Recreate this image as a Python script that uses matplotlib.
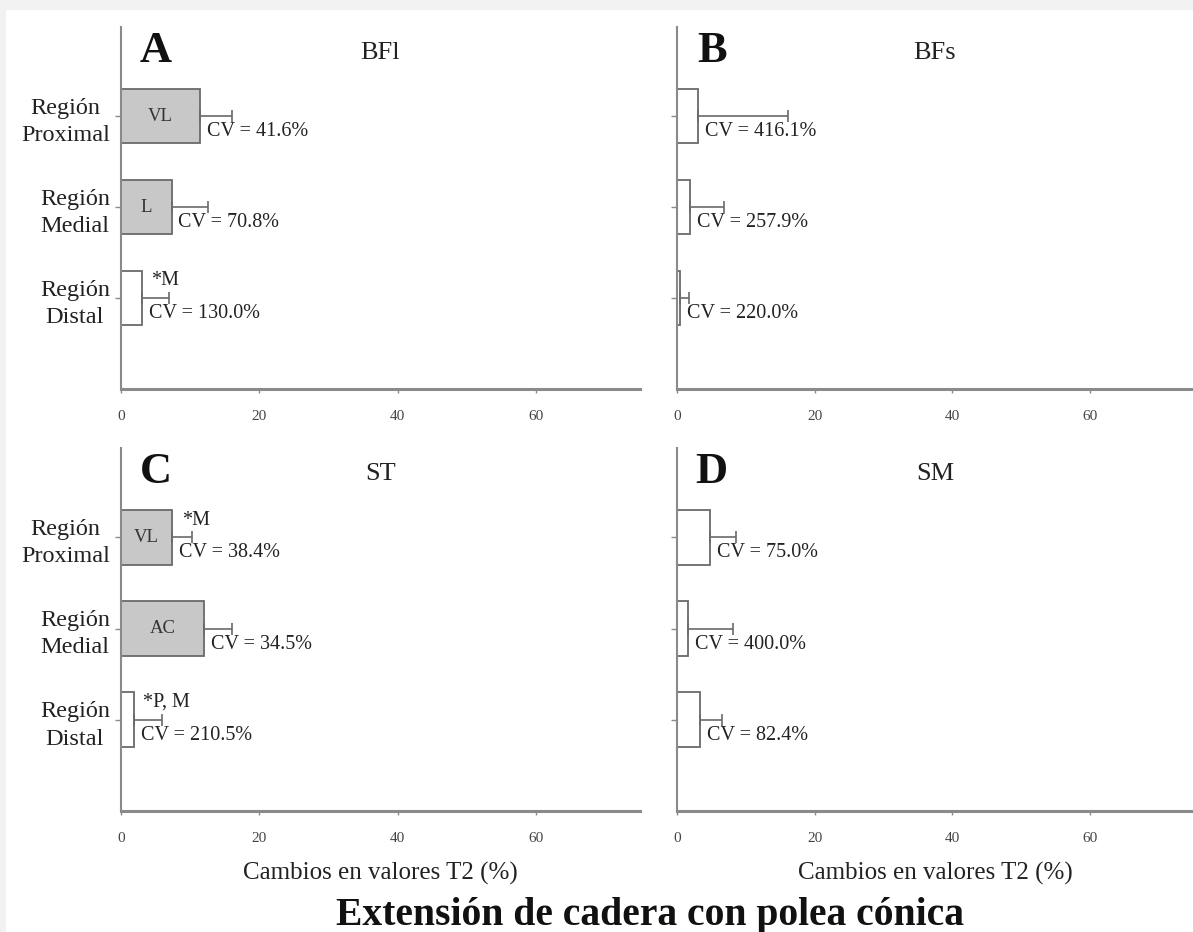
import matplotlib
matplotlib.use("Agg")
import matplotlib.pyplot as plt
from matplotlib.patches import Rectangle

plt.rcParams['font.family'] = ['Liberation Serif', 'DejaVu Serif']

# --- Data ---
regions = ["Región\nProximal", "Región\nMedial", "Región\nDistal"]

bfl_mean = [11.4, 7.3, 3.0]
bfl_err = [4.7, 5.2, 4.0]
bfl_cv = ["CV = 41.6%", "CV = 70.8%", "CV = 130.0%"]
bfl_inside = ["VL", "L", ""]
bfl_mark = ["", "", "*M"]

bfs_mean = [3.1, 1.9, 0.5]
bfs_err = [13.1, 5.0, 1.2]
bfs_cv = ["CV = 416.1%", "CV = 257.9%", "CV = 220.0%"]
bfs_inside = ["", "", ""]
bfs_mark = ["", "", ""]

st_mean = [7.4, 12.0, 1.85]
st_err = [2.9, 4.0, 4.05]
st_cv = ["CV = 38.4%", "CV = 34.5%", "CV = 210.5%"]
st_inside = ["VL", "AC", ""]
st_mark = ["*M", "", "*P, M"]

sm_mean = [4.8, 1.65, 3.4]
sm_err = [3.8, 6.55, 3.1]
sm_cv = ["CV = 75.0%", "CV = 400.0%", "CV = 82.4%"]
sm_inside = ["", "", ""]
sm_mark = ["", "", ""]

xticks = [0, 20, 40, 60]
xlabel = "Cambios en valores T2 (%)"
title = "Extensión de cadera con polea cónica"

W, H = 1193, 932
fig = plt.figure(figsize=(W / 100, H / 100), dpi=100)
fig.patch.set_facecolor("white")
# light grey frame strips (top / left)
fig.patches.append(Rectangle((0, 1 - 10 / H), 1, 10 / H, transform=fig.transFigure,
                             facecolor="#f2f2f2", edgecolor="none", zorder=0))
fig.patches.append(Rectangle((0, 0), 6 / W, 1, transform=fig.transFigure,
                             facecolor="#f2f2f2", edgecolor="none", zorder=0))

GRAY = "#c8c8c8"
EDGE = "#6a6a6a"
AXC = "#8a8a8a"


def px_axes(left, top, right, bottom):
    return fig.add_axes([left / W, 1 - bottom / H, (right - left) / W, (bottom - top) / H])


def panel(ax, letter, name, mean, err, cv, inside, mark, shaded, show_labels, show_xlabel):
    pos = list(range(len(mean)))
    colors = [GRAY if s else "white" for s in shaded]
    ax.barh(pos, mean, height=0.6, color=colors, edgecolor=EDGE, linewidth=1.3, zorder=2)
    ax.errorbar(mean, pos, xerr=[[0] * len(err), err], fmt="none", ecolor=EDGE,
                elinewidth=1.2, capsize=4.5, capthick=1.2, zorder=3)
    for i in pos:
        ax.text(mean[i] + 1.0, i + 0.17, cv[i], fontsize=14.5, va="center", ha="left", color="#222")
        if inside[i]:
            ax.text(mean[i] / 2, i, inside[i], fontsize=13.5, va="center", ha="center", color="#333")
        if mark[i]:
            ax.text(mean[i] + 1.4, i - 0.19, mark[i], fontsize=14.5, va="center", ha="left", color="#222")
    ax.set_xlim(0, 75)
    ax.set_ylim(3.0, -0.98)
    ax.set_xticks(xticks)
    ax.set_xticklabels([str(t) for t in xticks], fontsize=11, color="#444")
    ax.set_yticks(pos)
    if show_labels:
        ax.set_yticklabels(regions, fontsize=17.5, color="#222")
        for t in ax.get_yticklabels():
            t.set_multialignment("center")
            t.set_linespacing(1.4)
    else:
        ax.set_yticklabels([])
    ax.tick_params(axis="y", length=4, width=1, color=AXC, pad=4)
    ax.tick_params(axis="x", length=3, width=1, color=AXC, pad=12)
    for s in ["top", "right"]:
        ax.spines[s].set_visible(False)
    ax.spines["left"].set_color(AXC)
    ax.spines["left"].set_linewidth(1.5)
    ax.spines["bottom"].set_color(AXC)
    ax.spines["bottom"].set_linewidth(2.2)
    ax.text(0.067, 0.934, letter, transform=ax.transAxes, fontsize=32, fontweight="bold",
            ha="center", va="center", color="#111")
    ax.text(0.5, 0.927, name, transform=ax.transAxes, fontsize=19, ha="center", va="center",
            color="#222")
    if show_xlabel:
        ax.set_xlabel(xlabel, fontsize=18, color="#222", labelpad=12)


axA = px_axes(121, 27, 640, 389)
axB = px_axes(677, 27, 1193, 389)
axC = px_axes(121, 448, 640, 811)
axD = px_axes(677, 448, 1193, 811)

panel(axA, "A", "BFl", bfl_mean, bfl_err, bfl_cv, bfl_inside, bfl_mark,
      [True, True, False], True, False)
panel(axB, "B", "BFs", bfs_mean, bfs_err, bfs_cv, bfs_inside, bfs_mark,
      [False, False, False], False, False)
panel(axC, "C", "ST", st_mean, st_err, st_cv, st_inside, st_mark,
      [True, True, False], True, True)
panel(axD, "D", "SM", sm_mean, sm_err, sm_cv, sm_inside, sm_mark,
      [False, False, False], False, True)

fig.text(650 / W, 1 - 915 / H, title, fontsize=28.5, fontweight="bold", ha="center", va="center",
         color="#111")

fig.savefig("out.png", dpi=100)
